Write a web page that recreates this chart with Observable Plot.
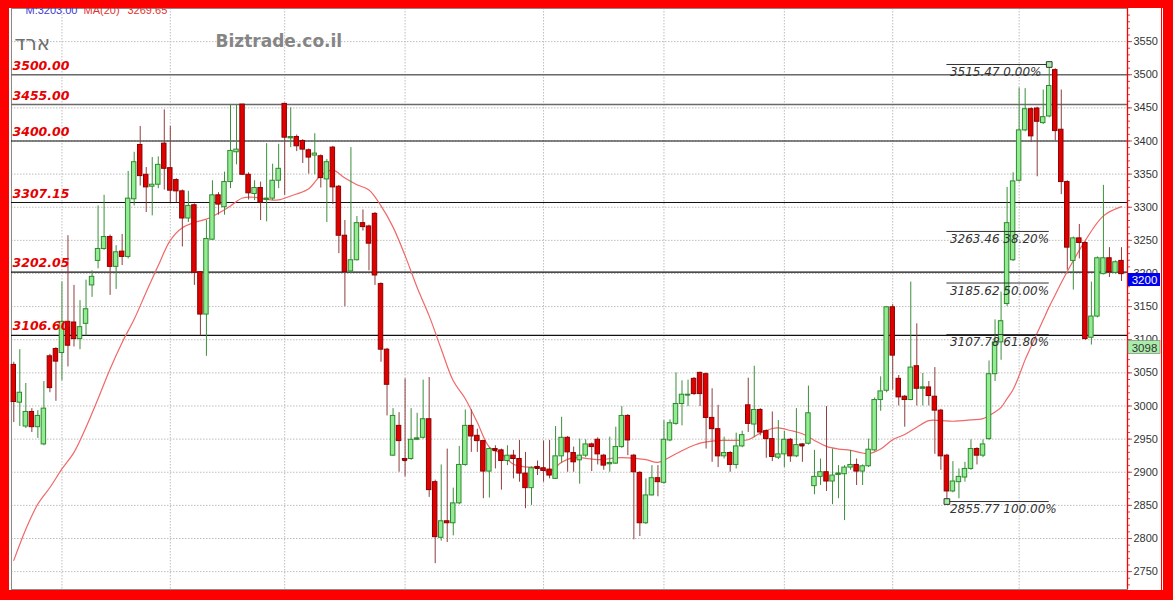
<!DOCTYPE html>
<html><head><meta charset="utf-8">
<script src="https://cdn.jsdelivr.net/npm/d3@7"></script>
<script src="https://cdn.jsdelivr.net/npm/@observablehq/plot@0.6"></script>
<style>
body{margin:0;background:#fff;}
#wrap{position:relative;width:1173px;height:600px;overflow:hidden;}
#frame{position:absolute;left:0;top:0;width:1173px;height:600px;box-sizing:border-box;border-style:solid;border-color:#ff0000;border-width:8px 10px 10px 9px;pointer-events:none;}
#frame2{position:absolute;left:1161px;top:0;width:1px;height:600px;background:#ff0000;}
</style></head><body>
<div id="wrap"><div id="chart"></div><div id="frame"></div><div id="frame2"></div></div>
<script>
// ---- data ----
const open = [3062,3005,2969,2991,2968,2942,3075,3086,3080,3127,3126,3101,3124,3182,3219,3237,3255,3210,3233,3225,
3312,3394,3349,3331,3334,3396,3359,3341,3324,3283,3303,3202,3138,3251,3318,3300,3338,3383,3455,3349,
3320,3329,3311,3313,3340,3456,3404,3406,3400,3386,3378,3377,3342,3390,3331,3257,3203,3220,3276,3271,
3290,3184,3085,2925,2970,2920,2920,2949,2952,2980,2885,2801,2826,2823,2853,2911,2970,2955,2947,2901,
2935,2933,2917,2925,2920,2898,2876,2908,2906,2904,2890,2924,2952,2929,2918,2925,2942,2949,2925,2912,
2913,2938,2985,2925,2899,2823,2865,2891,2884,2948,2973,3003,3016,3041,3050,3048,2982,2965,2924,2929,
2911,2939,3001,2972,2994,2962,2950,2922,2927,2949,2924,2942,2943,2879,2893,2900,2886,2896,2897,2907,
2911,2901,2909,2933,3009,3023,3149,3041,3014,3009,3060,3026,3028,3014,2993,2925,2871,2885,2892,2905,
2935,2925,2950,3048,3096,3154,3220,3340,3416,3448,3449,3427,3437,3507,3417,3338,3219,3253,3246,3103,
3135,3199,3223,3201,3219];
const high = [3066,3085,3034,2996,2993,3037,3078,3088,3187,3257,3182,3159,3190,3204,3302,3318,3258,3242,3259,3354,
3383,3422,3360,3375,3376,3447,3422,3343,3326,3324,3305,3203,3280,3340,3322,3353,3455,3455,3455,3352,
3340,3338,3396,3365,3395,3457,3450,3409,3402,3388,3411,3379,3372,3392,3333,3280,3390,3286,3296,3273,
3292,3186,3087,2996,2990,3041,2996,2989,3039,3043,2888,2911,2935,2876,2939,2994,2994,2965,2948,2937,
2940,2935,2940,2933,2948,2930,2908,2917,2947,2948,2969,2983,2954,2938,2950,2949,2944,2952,2927,2953,
2968,2999,2987,2927,2901,2890,2910,2910,2978,2979,3050,3038,3039,3043,3051,3050,3026,3001,2953,2931,
2959,2962,3042,3060,2996,2964,2991,2978,2962,2951,2996,2943,3030,2933,2920,2999,2935,2910,2910,2933,
2920,2911,2950,3012,3044,3150,3153,3046,3016,3187,3124,3049,3037,3058,2995,2927,2916,2905,2915,2949,
2937,2949,3068,3130,3172,3330,3352,3480,3479,3450,3451,3477,3515.47,3509,3477,3340,3255,3274,3248,3187,
3225,3333,3239,3219,3239];
const low = [2975,2969,2966,2960,2951,2940,3020,3007,3038,3059,3089,3085,3106,3164,3207,3235,3167,3176,3212,3222,
3302,3332,3292,3287,3328,3326,3307,3307,3240,3277,3182,3106,3075,3250,3288,3288,3328,3364,3348,3311,
3310,3280,3278,3310,3328,3318,3390,3384,3366,3350,3349,3329,3277,3304,3230,3150,3200,3219,3264,3204,
3182,3066,2985,2924,2900,2893,2918,2948,2950,2862,2762,2796,2794,2804,2851,2909,2930,2930,2860,2861,
2905,2873,2910,2890,2885,2845,2850,2895,2885,2890,2889,2913,2900,2900,2882,2922,2901,2911,2903,2900,
2912,2936,2925,2798,2803,2821,2864,2863,2882,2946,2971,2970,2999,3016,2999,2935,2915,2907,2920,2900,
2905,2937,2960,2952,2955,2921,2916,2919,2907,2915,2922,2915,2941,2866,2880,2871,2851,2860,2827,2903,
2880,2880,2907,2931,2992,3020,3024,3000,2968,3008,3000,3000,3000,2927,2903,2855.77,2869,2860,2885,2903,
2911,2922,2948,3037,3069,3150,3218,3338,3414,3398,3346,3425,3435,3400,3319,3205,3175,3222,3099,3092,
3133,3198,3194,3199,3188];
const close = [3006,3020,2991,2968,2985,2996,3027,3067,3127,3091,3101,3119,3146,3195,3237,3255,3210,3232,3225,3313,
3368,3347,3330,3334,3364,3358,3325,3324,3283,3302,3201,3138,3252,3318,3304,3338,3385,3387,3349,3321,
3329,3307,3313,3340,3358,3405,3406,3392,3387,3375,3381,3344,3368,3330,3257,3202,3220,3276,3270,3245,
3197,3085,3032,2985,2947,2918,2949,2951,2980,2873,2802,2826,2823,2853,2911,2970,2954,2947,2901,2935,
2933,2917,2925,2920,2898,2876,2906,2906,2902,2895,2924,2952,2930,2915,2925,2942,2938,2927,2910,2914,
2938,2985,2948,2900,2823,2865,2891,2885,2949,2974,3003,3017,3017,3018,3018,2982,2965,2924,2929,2911,
2939,2956,2973,2994,2960,2950,2923,2927,2949,2924,2941,2940,2989,2893,2900,2886,2895,2898,2907,2911,
2901,2909,2934,3009,3022,3149,3076,3013,3009,3058,3026,3028,3015,2993,2924,2871,2886,2893,2905,2935,
2925,2942,3048,3096,3128,3276,3339,3416,3448,3407,3429,3436,3483,3415,3338,3239,3253,3246,3101,3135,
3223,3223,3202,3217,3199];

// MA(20) at these candle positions
const maIdx = [0,2,4,6,8,10,12,14,16,18,20,22,24,26,28,30,32,34,36,38,40,42,44,46,47,49,51,53,55,57,59,61,63,65,67,69,71,73,75,77,79,81,83,85,87,89,91,93,95,97,101,105,107,110,112,114,116,118,120,122,124,126,127,129,131,133,135,137,139,141,142,144,146,148,150,152,154,156,159,161,163,164,165,166,167,168,169,170,171,172,173,174,175,178,181,184];
const maVal = [2767,2814,2852,2877,2905,2930,2968,3011,3056,3096,3131,3172,3212,3250,3269,3277,3282,3291,3302,3314,3315,3312,3311,3317,3320,3328,3348,3356,3344,3334,3326,3302,3270,3227,3179,3136,3086,3038,3011,2975,2938,2928,2912,2908,2907,2901,2915,2922,2921,2919,2922,2919,2915,2928,2937,2944,2947,2948,2948,2949,2959,2966,2967,2963,2958,2948,2939,2935,2933,2929,2928,2935,2949,2957,2968,2978,2978,2977,2979,2981,2991,2998,3011,3025,3046,3070,3090,3110,3130,3150,3168,3186,3203,3250,3287,3301];

const levels = [3500, 3455, 3400, 3307.15, 3202.05, 3106.60];
const fibLevels = [3515.47, 3263.46, 3185.62, 3107.78, 2855.77];
const fibPct = [0, 38.2, 50, 61.8, 100];
const fibFrom = 155, fibTo = 172;           // candle indices of the swing low / swing high
const monthStarts = [8, 26, 45, 65, 88, 108, 128, 146, 167];
const yTicks = [2750,2800,2850,2900,2950,3000,3050,3100,3150,3200,3250,3300,3350,3400,3450,3500,3550];
const lastPrice = 3200, markPrice = 3098;
const header = {m: "M:3203.00", ma: "MA(20)", maValue: "3269.65"};
const symbolName = "ארד";
const brand = "Biztrade.co.il";

// ---- build ----
const candles = open.map((o, i) => ({i, o, h: high[i], l: low[i], c: close[i]}));
const up = candles.filter(d => d.c >= d.o);
const dn = candles.filter(d => d.c < d.o);
const ma = maIdx.map((i, k) => ({i, v: maVal[k]}));
const xMin = -0.38, xMax = 185.0;
const minorTicks = d3.range(2730, 3600, 10);
const hw = 0.37;

const chart = Plot.plot({
  width: 1173, height: 600,
  marginLeft: 11, marginRight: 46, marginTop: 8, marginBottom: 11,
  x: {domain: [xMin, xMax], axis: null},
  y: {domain: [2723, 3600], axis: null},
  style: {background: "#fff", fontFamily: "'Liberation Sans', Arial, sans-serif", fontSize: "11px"},
  marks: [
    Plot.gridY(yTicks, {stroke: "#bdbdbd", strokeOpacity: 1, strokeDasharray: "1.5,1.5"}),
    Plot.gridX(monthStarts, {stroke: "#bdbdbd", strokeOpacity: 1, strokeDasharray: "1.5,1.5"}),
    Plot.frame({stroke: "#8a8a8a"}),
    Plot.ruleY(levels.filter(v => v >= 3455), {stroke: "#6a6a6a", strokeWidth: 1.6}),
    Plot.ruleY(levels.filter(v => v < 3455), {stroke: "#111", strokeWidth: 1.2}),
    Plot.line(ma, {x: "i", y: "v", stroke: "#f06868", strokeWidth: 1.2, curve: "catmull-rom"}),
    Plot.ruleX(up, {x: "i", y1: "l", y2: "h", stroke: "#3c8f3c", strokeWidth: 1}),
    Plot.ruleX(dn, {x: "i", y1: "l", y2: "h", stroke: "#8e3f3f", strokeWidth: 1}),
    Plot.rect(up, {x1: d => d.i - hw, x2: d => d.i + hw, y1: "o", y2: "c", fill: "#93ec93", stroke: "#2d8a2d", strokeWidth: 1}),
    Plot.rect(dn, {x1: d => d.i - hw, x2: d => d.i + hw, y1: "o", y2: "c", fill: "#e00000", stroke: "#8c0000", strokeWidth: 1}),
    Plot.ruleY(up.filter(d => Math.abs(d.c - d.o) < 3), {y: "c", x1: d => d.i - hw, x2: d => d.i + hw, stroke: "#2d8a2d", strokeWidth: 1.5}),
    Plot.ruleY(dn.filter(d => Math.abs(d.c - d.o) < 3), {y: "c", x1: d => d.i - hw, x2: d => d.i + hw, stroke: "#8c0000", strokeWidth: 1.5}),
    // Fibonacci retracement
    Plot.ruleY(fibLevels, {y: d => d, x1: fibFrom, x2: fibTo, stroke: "#333", strokeWidth: 1}),
    Plot.text(fibLevels, {x: fibFrom, y: d => d, text: (d, k) => `${d.toFixed(2)} ${fibPct[k].toFixed(2)}%`,
      textAnchor: "start", dx: 3, dy: 8, fill: "#333", fontSize: 12, fontStyle: "italic", fontFamily: "'DejaVu Sans', sans-serif"}),
    Plot.dot([{i: fibFrom, v: fibLevels[4]}, {i: fibTo, v: fibLevels[0]}], {x: "i", y: "v", symbol: "square", r: 3.2, fill: "#a6eea6", stroke: "#333", strokeWidth: 1}),
    // level labels
    Plot.text(levels, {y: d => d, text: d => d.toFixed(2), frameAnchor: "left", textAnchor: "start", dx: 1, dy: -9,
      fill: "#e60000", fontSize: 12.5, fontWeight: "bold", fontStyle: "italic", fontFamily: "'DejaVu Sans', sans-serif"}),
    // right axis
    Plot.axisY(minorTicks, {anchor: "right", tickSize: 2, tickFormat: () => "", stroke: "#d05050"}),
    Plot.axisY(yTicks, {anchor: "right", tickSize: 4, tickPadding: 2, fontSize: 11, stroke: "#b05050", fill: "#333", tickFormat: d => String(d)}),
    Plot.ruleX([xMax], {stroke: "#ff0000", strokeWidth: 1.3}),
    Plot.rect([lastPrice], {x1: xMax, x2: xMax, y1: d => d, y2: d => d, insetLeft: 1, insetRight: -33, insetBottom: -13, fill: "#0000ee"}),
    Plot.text([lastPrice], {x: xMax, y: d => d, text: d => String(d), dx: 17, dy: 7, fill: "#fff", fontSize: 11.5, textAnchor: "middle"}),
    Plot.rect([markPrice], {x1: xMax, x2: xMax, y1: d => d, y2: d => d, insetLeft: 1, insetRight: -33, insetBottom: -13, fill: "#a8eea8", stroke: "#777", strokeWidth: 0.6}),
    Plot.text([markPrice], {x: xMax, y: d => d, text: d => String(d), dx: 17, dy: 7, fill: "#333", fontSize: 11.5, textAnchor: "middle"}),
    // header
    Plot.text([header.m], {frameAnchor: "top-left", dx: 14, dy: 5, lineAnchor: "bottom", textAnchor: "start", fill: "#3b3bd0", fontSize: 11}),
    Plot.text([header.ma], {frameAnchor: "top-left", dx: 72, dy: 5, lineAnchor: "bottom", textAnchor: "start", fill: "#e03030", fontSize: 11}),
    Plot.text([header.maValue], {frameAnchor: "top-left", dx: 116, dy: 5, lineAnchor: "bottom", textAnchor: "start", fill: "#e03030", fontSize: 11}),
    Plot.text([symbolName], {frameAnchor: "top-left", dx: 3, dy: 27, textAnchor: "start", fill: "#6e6e6e", fontSize: 20, fontFamily: "'DejaVu Sans', sans-serif"}),
    Plot.text([brand], {frameAnchor: "top-left", dx: 204, dy: 26, textAnchor: "start", fill: "#858585", fontSize: 17, fontWeight: "bold", fontFamily: "'DejaVu Sans', sans-serif"})
  ]
});
document.getElementById("chart").appendChild(chart);
</script>
</body></html>
